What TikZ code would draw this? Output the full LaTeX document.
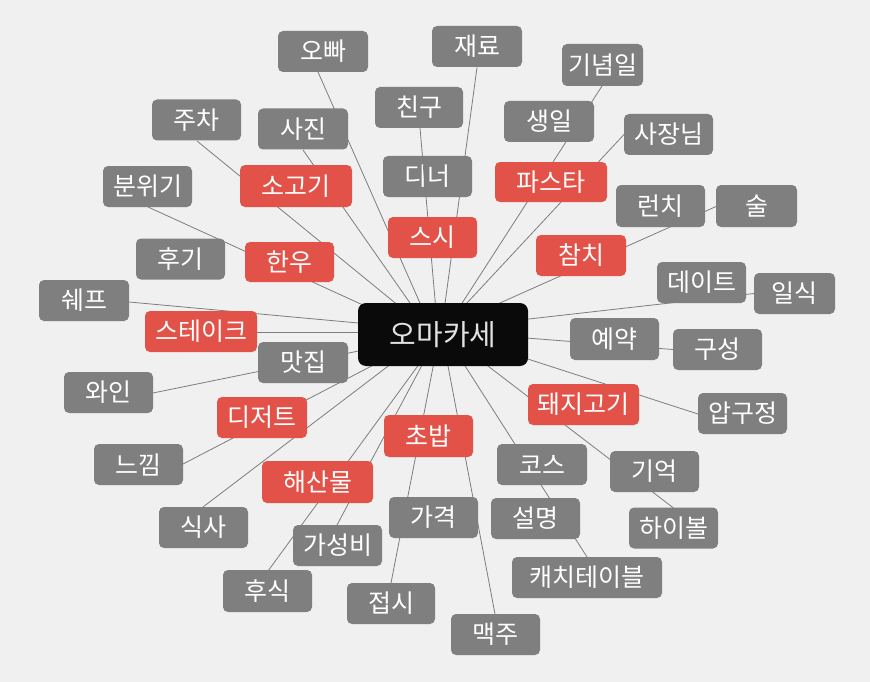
\documentclass[tikz,border=0pt]{standalone}
\usepackage{fontspec}
\setmainfont{Noto Sans CJK KR}
\usetikzlibrary{calc}
\definecolor{bgcol}{RGB}{240,240,240}
\definecolor{boxgray}{RGB}{127,127,127}
\definecolor{boxred}{RGB}{226,82,72}
\definecolor{linegray}{RGB}{125,125,125}
\definecolor{ctext}{RGB}{226,226,226}
\definecolor{cfill}{RGB}{10,10,10}
\pgfdeclarelayer{background}
\pgfdeclarelayer{front}
\pgfsetlayers{background,main,front}
\newcommand\conn[5]{\draw[link] ($(#1.center)+(#2,#3)$) -- ($(c.center)+(#4,#5)$);}
\begin{document}
\begin{tikzpicture}[x=1pt,y=-1pt,
  base/.style={rounded corners=5pt, text=white, inner sep=0pt, minimum height=41pt,
    font=\fontsize{25pt}{30pt}\selectfont},
  gnode/.style={base, fill=boxgray},
  rnode/.style={base, fill=boxred},
  cnode/.style={rounded corners=8pt, fill=cfill, text=ctext, inner sep=0pt,
    minimum width=170pt, minimum height=63pt, font=\fontsize{29pt}{34pt}\selectfont},
  link/.style={draw=linegray, line width=0.8pt}]
\begin{pgfonlayer}{background}
\fill[bgcol] (0,0) rectangle (870,682);
\end{pgfonlayer}
\useasboundingbox (0,0) rectangle (870,682);

% gray nodes
\node[gnode, minimum width=90pt] (obba) at (323,51.5) {오빠};
\node[gnode, minimum width=90pt] (jaeryo) at (477,46.5) {재료};
\node[gnode, minimum width=81pt, minimum height=42pt] (ginyeom) at (602.5,65) {기념일};
\node[gnode, minimum width=89pt] (jucha) at (196.5,120) {주차};
\node[gnode, minimum width=90pt] (sajin) at (303,129) {사진};
\node[gnode, minimum width=88pt] (chingu) at (419,107.5) {친구};
\node[gnode, minimum width=90pt] (saengil) at (549,121.5) {생일};
\node[gnode, minimum width=89pt] (sajang) at (668.5,134.5) {사장님};
\node[gnode, minimum width=89pt] (bunwigi) at (147.5,186.5) {분위기};
\node[gnode, minimum width=89pt] (diner) at (427.5,176.5) {디너};
\node[gnode, minimum width=89pt, minimum height=42pt] (lunch) at (660.5,206) {런치};
\node[gnode, minimum width=81pt, minimum height=42pt] (sul) at (756.5,206) {술};
\node[gnode, minimum width=89pt] (hugi) at (180.5,259) {후기};
\node[gnode, minimum width=90pt] (chef) at (84,300.5) {쉐프};
\node[gnode, minimum width=89pt] (date) at (701.5,282.5) {데이트};
\node[gnode, minimum width=81pt] (ilsik) at (794.5,293.5) {일식};
\node[gnode, minimum width=89pt, minimum height=42pt] (yeyak) at (614.5,339) {예약};
\node[gnode, minimum width=89pt] (guseong) at (717.5,349.5) {구성};
\node[gnode, minimum width=90pt] (matjip) at (303,362.5) {맛집};
\node[gnode, minimum width=89pt] (wine) at (108.5,392.5) {와인};
\node[gnode, minimum width=89pt] (apgu) at (742.5,413.5) {압구정};
\node[gnode, minimum width=89pt] (neukkim) at (138.5,464.5) {느낌};
\node[gnode, minimum width=90pt] (course) at (542,464.5) {코스};
\node[gnode, minimum width=89pt] (gieok) at (654.5,471.5) {기억};
\node[gnode, minimum width=89pt] (gagyeok) at (433.5,517.5) {가격};
\node[gnode, minimum width=89pt] (seolmyeong) at (535.5,518.5) {설명};
\node[gnode, minimum width=89pt] (siksa) at (203.5,527.5) {식사};
\node[gnode, minimum width=89pt] (highball) at (673.5,528) {하이볼};
\node[gnode, minimum width=89pt] (gaseongbi) at (337.5,545.5) {가성비};
\node[gnode, minimum width=150pt] (catch) at (587,577.5) {캐치테이블};
\node[gnode, minimum width=89pt, minimum height=42pt] (husik) at (267.5,591) {후식};
\node[gnode, minimum width=88pt] (jeopsi) at (391,603.5) {접시};
\node[gnode, minimum width=89pt] (maekju) at (495.5,634.5) {맥주};

% red nodes
\node[rnode, minimum width=112pt, minimum height=42pt] (sogogi) at (296,186) {소고기};
\node[rnode, minimum width=112pt, minimum height=40pt] (pasta) at (551,182) {파스타};
\node[rnode, minimum width=89pt, minimum height=40pt] (hanu) at (289.5,262) {한우};
\node[rnode, minimum width=90pt] (chamchi) at (581,255.5) {참치};
\node[rnode, minimum width=112pt] (steak) at (201,331.5) {스테이크};
\node[rnode, minimum width=111pt] (dwaeji) at (583.5,404.5) {돼지고기};
\node[rnode, minimum width=90pt] (dessert) at (262,417.5) {디저트};
\node[rnode, minimum width=89pt, minimum height=42pt] (chobap) at (428.5,436) {초밥};
\node[rnode, minimum width=111pt, minimum height=42pt] (haesanmul) at (317.5,482) {해산물};

% centre
\node[cnode] (c) at (443,334.5) {오마카세};

\begin{pgfonlayer}{front}
\node[rnode, minimum width=89pt] (susi) at (432.5,237.5) {스시};
\end{pgfonlayer}

% this connector runs over the box of 디너
\draw[link] ($(chingu.center)+(1,20.5)$) -- ($(c.north west)+(77.5,0)$);

\begin{pgfonlayer}{background}
\conn{obba}{-5}{20.5}{-19.5}{-23.5}
\conn{jaeryo}{0}{21}{1}{-23.5}
\conn{ginyeom}{-0.5}{21}{14}{-23.5}
\conn{jucha}{0.5}{21}{-38}{-23.5}
\conn{sajin}{0}{21}{-27.4}{-23.5}
\conn{sajang}{-44.5}{0}{16.5}{-23.5}
\conn{sul}{-40.5}{0.5}{39}{-23.5}
\conn{ilsik}{-40.5}{0}{77}{-14.5}
\conn{guseong}{-44.5}{0}{77}{3}
\conn{apgu}{-44.5}{0.5}{77}{22}
\conn{highball}{0}{-20}{34.5}{23.5}
\conn{catch}{0}{-20.5}{17}{23.5}
\conn{maekju}{-0.5}{-20.5}{3.5}{23.5}
\conn{jeopsi}{0}{-20.5}{-8.2}{23.5}
\conn{gaseongbi}{-0.5}{-20.5}{-17.2}{23.5}
\conn{husik}{0.5}{-20}{-19.4}{23.5}
\conn{siksa}{-0.5}{-20.5}{-44.2}{23.5}
\conn{neukkim}{44.5}{-0.5}{-56}{23.5}
\conn{wine}{44.5}{0.5}{-77}{15}
\conn{steak}{56}{0.5}{-77}{-2.5}
\conn{chef}{45}{1.5}{-77}{-10.8}
\conn{bunwigi}{0.5}{20.5}{-68}{-24}
\end{pgfonlayer}
\end{tikzpicture}
\end{document}
